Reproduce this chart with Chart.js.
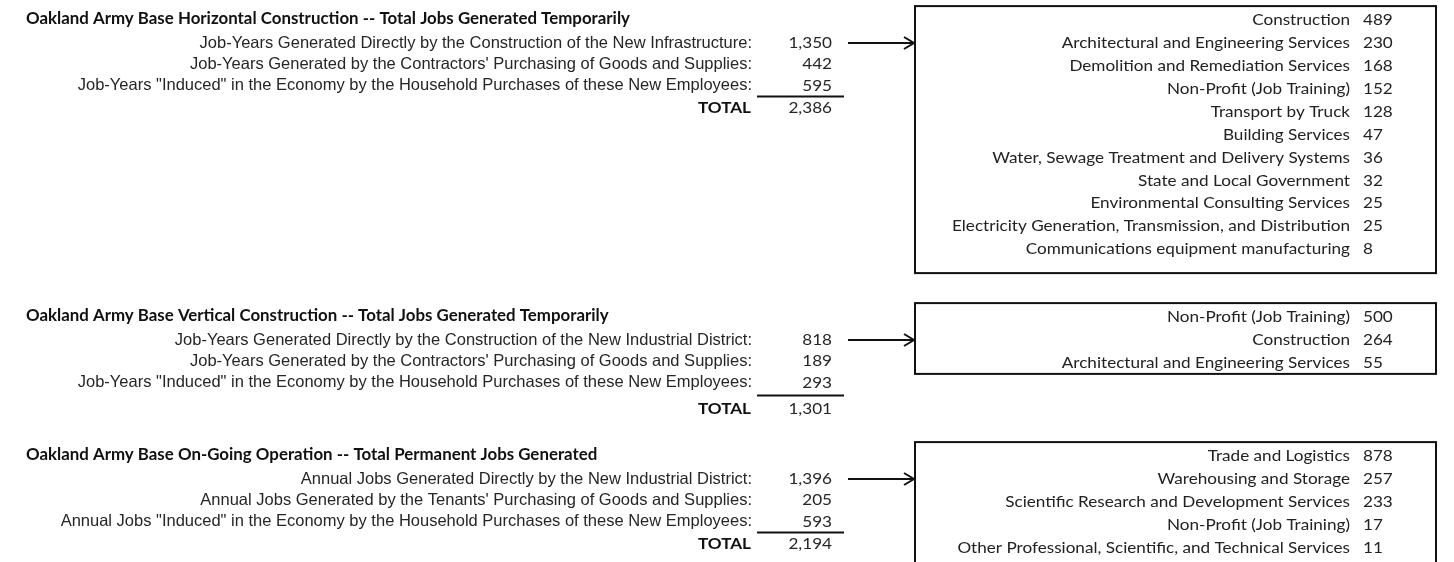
<!DOCTYPE html>
<html>
<head>
<meta charset="utf-8">
<script src="https://cdn.jsdelivr.net/npm/chart.js"></script>
<style>
  html, body { margin: 0; padding: 0; background: #fff; overflow: hidden; }
  #wrap { width: 1454px; height: 562px; }
</style>
</head>
<body>
<div id="wrap"><canvas id="jobsChart" width="1454" height="562"></canvas></div>
<script>
// ======= DATA =======
const sectionTitles = [
  "Oakland Army Base Horizontal Construction -- Total Jobs Generated Temporarily",
  "Oakland Army Base Vertical Construction -- Total Jobs Generated Temporarily",
  "Oakland Army Base On-Going Operation -- Total Permanent Jobs Generated"
];
const sourceLabels = [
  [
    "Job-Years Generated Directly by the Construction of the New Infrastructure:",
    "Job-Years Generated by the Contractors' Purchasing of Goods and Supplies:",
    "Job-Years \"Induced\" in the Economy by the Household Purchases of these New Employees:"
  ],
  [
    "Job-Years Generated Directly by the Construction of the New Industrial District:",
    "Job-Years Generated by the Contractors' Purchasing of Goods and Supplies:",
    "Job-Years \"Induced\" in the Economy by the Household Purchases of these New Employees:"
  ],
  [
    "Annual Jobs Generated Directly by the New Industrial District:",
    "Annual Jobs Generated by the Tenants' Purchasing of Goods and Supplies:",
    "Annual Jobs \"Induced\" in the Economy by the Household Purchases of these New Employees:"
  ]
];
const sourceValues = [
  [1350, 442, 595],
  [818, 189, 293],
  [1396, 205, 593]
];
const totalValues = [2386, 1301, 2194];
const totalLabel = "TOTAL";

const industryLabels = [
  [
    "Construction",
    "Architectural and Engineering Services",
    "Demolition and Remediation Services",
    "Non-Profit (Job Training)",
    "Transport by Truck",
    "Building Services",
    "Water, Sewage Treatment and Delivery Systems",
    "State and Local Government",
    "Environmental Consulting Services",
    "Electricity Generation, Transmission, and Distribution",
    "Communications equipment manufacturing"
  ],
  [
    "Non-Profit (Job Training)",
    "Construction",
    "Architectural and Engineering Services"
  ],
  [
    "Trade and Logistics",
    "Warehousing and Storage",
    "Scientific Research and Development Services",
    "Non-Profit (Job Training)",
    "Other Professional, Scientific, and Technical Services"
  ]
];
const industryValues = [
  [489, 230, 168, 152, 128, 47, 36, 32, 25, 25, 8],
  [500, 264, 55],
  [878, 257, 233, 17, 11]
];

// ======= LAYOUT (scale units) =======
const sectionTop = [19, 316, 455];   // title row of each block
const totalGap = [22, 26, 22];       // last line -> TOTAL line
const boxBottomPad = [24, 11, 24];   // space under the last line of each box
const rowStep = 21.3;                // left table line spacing
const boxStep = 22.9;                // industry box line spacing
const col = {
  title: 26, labelRight: 752, numRight: 832, totalRight: 751,
  ruleFrom: 757, ruleTo: 844, arrowFrom: 848,
  boxLeft: 915, boxRight: 1436, indLabelRight: 1350, indValueLeft: 1363
};

const fmt = n => n.toLocaleString("en-US");

const ARIAL = '"Liberation Sans", Arial, sans-serif';
const CALIBRI = 'Lato, "Open Sans", sans-serif';

// squeeze a font horizontally so a reference string gets a given width
function squeezeFor(ctx, font, ref, width) {
  ctx.save();
  ctx.font = font;
  const w = ctx.measureText(ref).width;
  ctx.restore();
  return width / w;
}

function drawText(ctx, str, x, y, align, font, color, sx) {
  ctx.save();
  ctx.font = font;
  ctx.fillStyle = color;
  ctx.textAlign = align;
  ctx.textBaseline = "middle";
  ctx.translate(x, y);
  ctx.scale(sx || 1, 1);
  ctx.fillText(str, 0, 0);
  ctx.restore();
}

const tablePlugin = {
  id: "jobsTable",
  afterDraw(chart) {
    const { ctx } = chart;
    const xs = chart.scales.x, ys = chart.scales.y;
    const px = v => xs.getPixelForValue(v);
    const py = v => ys.getPixelForValue(v);

    const titleFont = "bold 17px " + CALIBRI;
    const calFont = "16px " + CALIBRI;
    const totFont = "bold 16px " + CALIBRI;
    const labelFont = "16.5px " + ARIAL;
    const titleSx = squeezeFor(ctx, titleFont, sectionTitles[0], 604);
    const calSx = squeezeFor(ctx, calFont, industryLabels[0][9], 398);

    ctx.save();
    sectionTitles.forEach((title, s) => {
      const top = sectionTop[s];
      drawText(ctx, title, px(col.title), py(top), "left", titleFont, "#111", titleSx);

      const rowY = i => top + 24 + i * rowStep;
      sourceLabels[s].forEach((lab, i) => {
        drawText(ctx, lab, px(col.labelRight), py(rowY(i)), "right", labelFont, "#262626", 1);
        drawText(ctx, fmt(sourceValues[s][i]), px(col.numRight), py(rowY(i)), "right", calFont, "#262626", calSx);
      });
      const last = rowY(sourceLabels[s].length - 1);
      const totY = last + totalGap[s];

      // underline above the total
      ctx.strokeStyle = "#111";
      ctx.lineWidth = 2;
      ctx.beginPath();
      ctx.moveTo(px(col.ruleFrom), py((last + totY) / 2));
      ctx.lineTo(px(col.ruleTo), py((last + totY) / 2));
      ctx.stroke();

      drawText(ctx, totalLabel, px(col.totalRight), py(totY), "right", totFont, "#111", calSx);
      drawText(ctx, fmt(totalValues[s]), px(col.numRight), py(totY), "right", calFont, "#262626", calSx);

      // arrow from the direct-jobs line to the industry box
      const ay = rowY(0);
      ctx.beginPath();
      ctx.moveTo(px(col.arrowFrom), py(ay));
      ctx.lineTo(px(col.boxLeft) - 1, py(ay));
      ctx.moveTo(px(col.boxLeft) - 11, py(ay) - 6);
      ctx.lineTo(px(col.boxLeft) - 1, py(ay));
      ctx.lineTo(px(col.boxLeft) - 11, py(ay) + 6);
      ctx.stroke();

      // industry breakdown box
      const boxY = j => ay + (j - 1) * boxStep;
      const n = industryLabels[s].length;
      const bTop = py(boxY(0) - 14), bBot = py(boxY(n - 1) + boxBottomPad[s]);
      ctx.strokeRect(px(col.boxLeft), bTop, px(col.boxRight) - px(col.boxLeft), bBot - bTop);
      industryLabels[s].forEach((lab, j) => {
        drawText(ctx, lab, px(col.indLabelRight), py(boxY(j)), "right", calFont, "#222", calSx);
        drawText(ctx, fmt(industryValues[s][j]), px(col.indValueLeft), py(boxY(j)), "left", calFont, "#222", calSx);
      });
    });
    ctx.restore();
  }
};

new Chart(document.getElementById("jobsChart"), {
  type: "scatter",
  data: { datasets: [] },
  options: {
    responsive: false,
    animation: false,
    devicePixelRatio: 1,
    layout: { padding: 0 },
    plugins: { legend: { display: false }, tooltip: { enabled: false } },
    scales: {
      x: { type: "linear", min: 0, max: 1454, display: false },
      y: { type: "linear", min: 0, max: 562, reverse: true, display: false }
    }
  },
  plugins: [tablePlugin]
});
</script>
</body>
</html>
